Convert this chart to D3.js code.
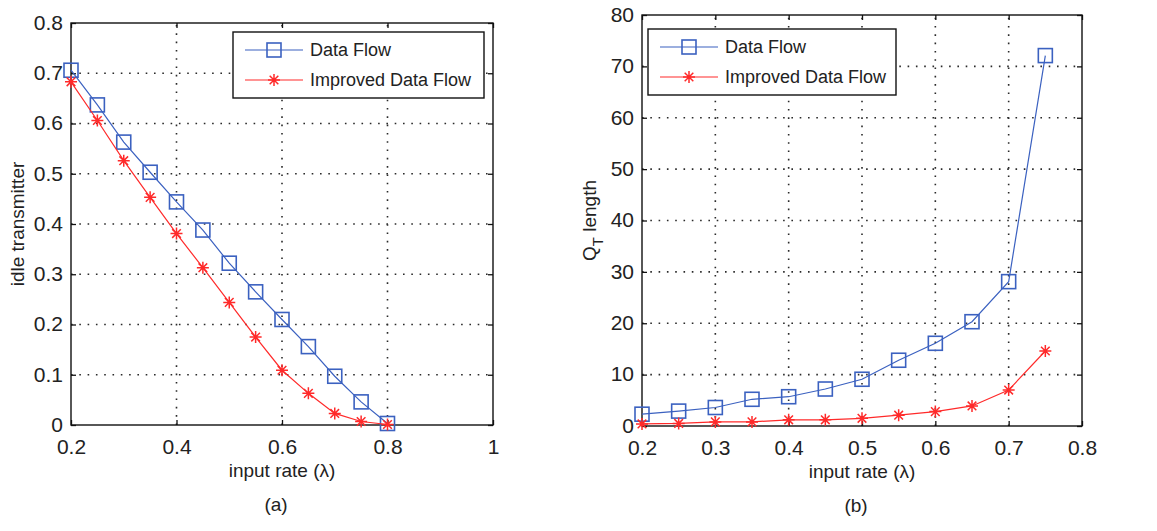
<!DOCTYPE html>
<html>
<head>
<meta charset="utf-8">
<script src="https://cdn.jsdelivr.net/npm/d3@7"></script>
<style>
  html, body { margin: 0; padding: 0; background: #fff; }
  svg { display: block; }
  text { font-family: "Liberation Sans", Arial, sans-serif; fill: #222; }
</style>
</head>
<body>
<svg id="chart" width="1157" height="531"></svg>
<script>
// ---------- data ----------
const inputRateA = [0.2, 0.25, 0.3, 0.35, 0.4, 0.45, 0.5, 0.55, 0.6, 0.65, 0.7, 0.75, 0.8];
const idleDataFlow = [0.706, 0.637, 0.563, 0.503, 0.444, 0.388, 0.322, 0.265, 0.210, 0.156, 0.097, 0.046, 0.003];
const idleImproved = [0.683, 0.606, 0.526, 0.453, 0.381, 0.313, 0.244, 0.175, 0.109, 0.063, 0.023, 0.007, 0.001];

const inputRateB = [0.2, 0.25, 0.3, 0.35, 0.4, 0.45, 0.5, 0.55, 0.6, 0.65, 0.7, 0.75];
const qDataFlow = [2.3, 2.9, 3.6, 5.2, 5.7, 7.2, 9.1, 12.8, 16.1, 20.3, 28.1, 72.1];
const qImproved = [0.4, 0.5, 0.8, 0.8, 1.2, 1.2, 1.5, 2.1, 2.8, 3.9, 7.0, 14.6];

const xTicksA = [0.2, 0.4, 0.6, 0.8, 1];
const yTicksA = [0, 0.1, 0.2, 0.3, 0.4, 0.5, 0.6, 0.7, 0.8];
const xTicksB = [0.2, 0.3, 0.4, 0.5, 0.6, 0.7, 0.8];
const yTicksB = [0, 10, 20, 30, 40, 50, 60, 70, 80];

const seriesNames = ["Data Flow", "Improved Data Flow"];
const xLabel = "input rate (λ)";

// ---------- style ----------
const BLUE = "#3b61c0";
const RED = "#ff2a2a";
const fmt = d => String(+d.toFixed(2));

const svg = d3.select("#chart");
svg.append("rect").attr("width", 1157).attr("height", 531).attr("fill", "#fff");

function drawPanel(cfg) {
  const g = svg.append("g");
  const x = d3.scaleLinear().domain(cfg.xDomain).range([cfg.left, cfg.right]);
  const y = d3.scaleLinear().domain(cfg.yDomain).range([cfg.bottom, cfg.top]);

  // grid
  const grid = g.append("g").attr("stroke", "#2a2a2a").attr("stroke-width", 1.6)
    .attr("stroke-dasharray", "1.6,6.7");
  cfg.xTicks.slice(1, -1).forEach(t => {
    grid.append("line").attr("x1", x(t)).attr("x2", x(t)).attr("y1", cfg.bottom).attr("y2", cfg.top);
  });
  cfg.yTicks.slice(1, -1).forEach(t => {
    grid.append("line").attr("y1", y(t)).attr("y2", y(t)).attr("x1", cfg.left).attr("x2", cfg.right);
  });

  // axes with inward ticks
  const tickLen = 5;
  const ax = (gen, tx, ty, labels) => {
    const a = g.append("g").attr("transform", `translate(${tx},${ty})`).call(gen);
    a.select(".domain").remove();
    a.selectAll(".tick line").attr("stroke", "#111").attr("stroke-width", 1.3);
    a.selectAll(".tick text").style("font-size", "21px").attr("fill", "#222")
      .style("font-family", '"Liberation Sans", Arial, sans-serif');
    if (!labels) a.selectAll(".tick text").remove();
    return a;
  };
  ax(d3.axisBottom(x).tickValues(cfg.xTicks).tickFormat(fmt).tickSizeInner(-tickLen).tickSizeOuter(0).tickPadding(10), 0, cfg.bottom, true)
    .selectAll(".tick text").attr("dy", "0").attr("y", 29);
  ax(d3.axisTop(x).tickValues(cfg.xTicks).tickSizeInner(-tickLen).tickSizeOuter(0), 0, cfg.top, false);
  ax(d3.axisLeft(y).tickValues(cfg.yTicks).tickFormat(fmt).tickSizeInner(-tickLen).tickSizeOuter(0).tickPadding(8), cfg.left, 0, true)
    .selectAll(".tick text").attr("x", -8).attr("dy", "0.3em");
  ax(d3.axisRight(y).tickValues(cfg.yTicks).tickSizeInner(-tickLen).tickSizeOuter(0), cfg.right, 0, false);

  // box
  g.append("rect").attr("x", cfg.left).attr("y", cfg.top)
    .attr("width", cfg.right - cfg.left).attr("height", cfg.bottom - cfg.top)
    .attr("fill", "none").attr("stroke", "#111").attr("stroke-width", 1.4);

  // series
  const line = d3.line().x(d => x(d[0])).y(d => y(d[1]));
  cfg.series.forEach(s => {
    const pts = cfg.xs.map((v, i) => [v, s.values[i]]);
    g.append("path").datum(pts).attr("d", line).attr("fill", "none")
      .attr("stroke", s.color).attr("stroke-width", 1.2);
    pts.forEach(p => drawMarker(g, s.marker, x(p[0]), y(p[1]), s.color));
  });

  // legend
  const L = cfg.legend;
  const lg = g.append("g");
  lg.append("rect").attr("x", L.x).attr("y", L.y).attr("width", L.w).attr("height", L.h)
    .attr("fill", "#fff").attr("stroke", "#111").attr("stroke-width", 1.4);
  cfg.series.forEach((s, i) => {
    const ry = L.y + 18 + i * 30;
    lg.append("line").attr("x1", L.x + 12).attr("x2", L.x + 70).attr("y1", ry).attr("y2", ry)
      .attr("stroke", s.color).attr("stroke-width", 1.2);
    drawMarker(lg, s.marker, L.x + 41, ry, s.color);
    lg.append("text").attr("x", L.x + 77).attr("y", ry).attr("dy", "0.36em")
      .style("font-size", "18px").text(s.name);
  });

  // x label and caption
  g.append("text").attr("x", (cfg.left + cfg.right) / 2).attr("y", cfg.bottom + 52)
    .attr("text-anchor", "middle").style("font-size", "19px").text(xLabel);
  g.append("text").attr("x", (cfg.left + cfg.right) / 2 - 6).attr("y", cfg.bottom + 86)
    .attr("text-anchor", "middle").style("font-size", "19px").attr("fill", "#333").text(cfg.caption);

  // y label
  const yl = g.append("text")
    .attr("transform", `translate(${cfg.yLabelX},${(cfg.top + cfg.bottom) / 2}) rotate(-90)`)
    .attr("text-anchor", "middle").style("font-size", "19px");
  cfg.yLabel(yl);
}

function drawMarker(g, type, cx, cy, color) {
  if (type === "square") {
    const s = 14;
    g.append("rect").attr("x", cx - s / 2).attr("y", cy - s / 2).attr("width", s).attr("height", s)
      .attr("fill", "none").attr("stroke", color).attr("stroke-width", 1.6);
  } else {
    const r = 6, d = r * 0.72;
    const p = `M${cx - r},${cy}H${cx + r}M${cx},${cy - r}V${cy + r}` +
      `M${cx - d},${cy - d}L${cx + d},${cy + d}M${cx - d},${cy + d}L${cx + d},${cy - d}`;
    g.append("path").attr("d", p).attr("stroke", color).attr("stroke-width", 1.5).attr("fill", "none");
  }
}

drawPanel({
  left: 71, right: 493, top: 23, bottom: 425,
  xDomain: [0.2, 1], yDomain: [0, 0.8],
  xTicks: xTicksA, yTicks: yTicksA,
  xs: inputRateA,
  series: [
    { name: seriesNames[0], values: idleDataFlow, color: BLUE, marker: "square" },
    { name: seriesNames[1], values: idleImproved, color: RED, marker: "star" }
  ],
  legend: { x: 233, y: 32, w: 251, h: 66 },
  caption: "(a)",
  yLabelX: 24,
  yLabel: t => t.text("idle transmitter")
});

drawPanel({
  left: 642, right: 1082, top: 15, bottom: 426,
  xDomain: [0.2, 0.8], yDomain: [0, 80],
  xTicks: xTicksB, yTicks: yTicksB,
  xs: inputRateB,
  series: [
    { name: seriesNames[0], values: qDataFlow, color: BLUE, marker: "square" },
    { name: seriesNames[1], values: qImproved, color: RED, marker: "star" }
  ],
  legend: { x: 648, y: 29, w: 248, h: 66 },
  caption: "(b)",
  yLabelX: 596,
  yLabel: t => {
    t.append("tspan").text("Q");
    t.append("tspan").attr("dy", 7).style("font-size", "15px").text("T");
    t.append("tspan").attr("dy", -7).text(" length");
  }
});
</script>
</body>
</html>
